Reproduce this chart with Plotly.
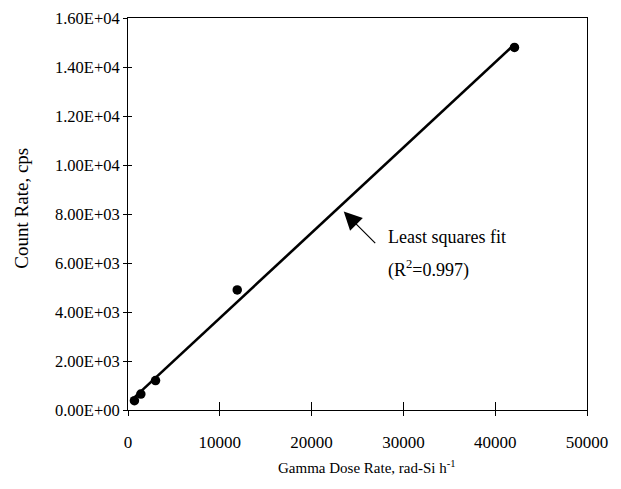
import numpy as np
import plotly.graph_objects as go

# Data
dose_rate = [700, 1400, 3000, 11900, 42100]
count_rate = [380, 650, 1200, 4900, 14800]

y_tickvals = [0, 2000, 4000, 6000, 8000, 10000, 12000, 14000, 16000]
y_ticktext = ["0.00E+00", "2.00E+03", "4.00E+03", "6.00E+03", "8.00E+03",
              "1.00E+04", "1.20E+04", "1.40E+04", "1.60E+04"]
x_tickvals = [0, 10000, 20000, 30000, 40000, 50000]
x_ticktext = ["0", "10000", "20000", "30000", "40000", "50000"]

# least squares fit
slope, intercept = np.polyfit(dose_rate, count_rate, 1)
fit_x = [min(dose_rate), max(dose_rate)]
fit_y = [slope * v + intercept for v in fit_x]

FONT = "Liberation Serif"

fig = go.Figure()
fig.add_trace(go.Scatter(x=fit_x, y=fit_y, mode="lines",
                         line=dict(color="black", width=2.6),
                         showlegend=False, hoverinfo="skip"))
fig.add_trace(go.Scatter(x=dose_rate, y=count_rate, mode="markers",
                         marker=dict(color="black", size=9.5),
                         showlegend=False))
# invisible trace on overlay axes for crossing ticks
fig.add_trace(go.Scatter(x=[0], y=[0], mode="markers", marker=dict(opacity=0),
                         xaxis="x2", yaxis="y2", showlegend=False, hoverinfo="skip"))

fig.update_layout(
    width=621, height=489,
    margin=dict(l=128, r=34, t=18, b=79),
    paper_bgcolor="white", plot_bgcolor="white",
    font=dict(family=FONT, size=16, color="black"),
    xaxis=dict(range=[0, 50000], tickvals=x_tickvals, ticktext=x_ticktext,
               ticks="outside", ticklen=5, tickcolor="black",
               showline=True, linecolor="black", linewidth=1, mirror=True,
               showgrid=False, zeroline=False, ticklabelstandoff=12,
               automargin=False, tickfont=dict(size=17)),
    yaxis=dict(range=[0, 16000], tickvals=y_tickvals, ticktext=y_ticktext,
               ticks="outside", ticklen=4, tickcolor="black",
               showline=True, linecolor="black", linewidth=1, mirror=True,
               showgrid=False, zeroline=False, automargin=False,
               tickfont=dict(size=16.5)),
    xaxis2=dict(range=[0, 50000], tickvals=x_tickvals, ticks="inside", ticklen=8,
                tickcolor="black", showticklabels=False, overlaying="x",
                showgrid=False, zeroline=False, showline=False),
    yaxis2=dict(range=[0, 16000], tickvals=y_tickvals, ticks="inside", ticklen=4,
                tickcolor="black", showticklabels=False, overlaying="y",
                showgrid=False, zeroline=False, showline=False),
)

# axis titles
fig.add_annotation(x=0.52, y=-0.145, xref="paper", yref="paper",
                   text="Gamma Dose Rate, rad-Si h<sup>-1</sup>",
                   showarrow=False, xanchor="center", yanchor="middle",
                   font=dict(size=15))
fig.add_annotation(x=-0.232, y=0.515, xref="paper", yref="paper",
                   text="Count Rate, cps", textangle=-90,
                   showarrow=False, xanchor="center", yanchor="middle",
                   font=dict(size=19))

# fit annotation
fig.add_annotation(x=23500, y=8100, xref="x", yref="y", text="",
                   showarrow=True, arrowhead=2, arrowsize=3, arrowwidth=1.2,
                   arrowcolor="black", ax=33, ay=33, standoff=0)
fig.add_annotation(x=28100, y=7060, xref="x", yref="y", text="Least squares fit",
                   showarrow=False, xanchor="left", yanchor="middle",
                   font=dict(size=18))
fig.add_annotation(x=28100, y=5750, xref="x", yref="y", text="(R<sup>2</sup>=0.997)",
                   showarrow=False, xanchor="left", yanchor="middle",
                   font=dict(size=18))

fig.write_html("out.html", config={"displayModeBar": False},
               post_script="document.body.style.margin='0';document.body.style.overflow='hidden';")
